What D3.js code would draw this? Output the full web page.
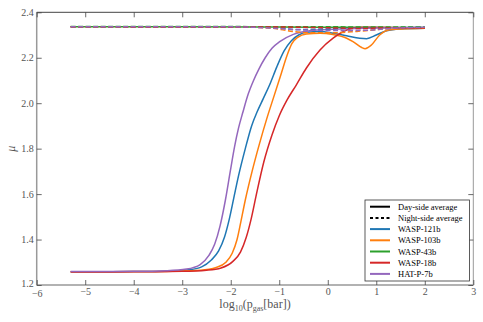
<!DOCTYPE html>
<html>
<head>
<meta charset="utf-8">
<script src="https://cdn.jsdelivr.net/npm/d3@7"></script>
<style>
  body { margin: 0; background: #fff; }
  text { font-family: "Liberation Serif", "DejaVu Serif", serif; }
</style>
</head>
<body>
<svg id="chart" width="483" height="322"></svg>
<script>
"use strict";

// planets, in legend order
const planets = ["WASP-121b", "WASP-103b", "WASP-43b", "WASP-18b", "HAT-P-7b"];
const colors = ["#1f77b4", "#ff7f0e", "#2ca02c", "#d62728", "#9467bd"];

// day-side averages (log10 p, mu)
const daySide = {
  "WASP-121b": [[-5.3,1.258],[-4,1.259],[-3.2,1.262],[-2.9,1.266],[-2.6,1.28],[-2.4,1.31],[-2.25,1.35],[-2.13,1.41],[-2.03,1.49],[-1.94,1.58],[-1.84,1.68],[-1.7,1.8],[-1.57,1.9],[-1.46,1.96],[-1.33,2.02],[-1.2,2.08],[-1.05,2.16],[-0.9,2.23],[-0.75,2.275],[-0.6,2.3],[-0.44,2.312],[-0.16,2.315],[0.11,2.308],[0.39,2.297],[0.66,2.286],[0.8,2.284],[1.0,2.3],[1.21,2.319],[1.49,2.327],[2.0,2.33]],
  "WASP-103b": [[-5.3,1.258],[-4,1.259],[-3.2,1.261],[-2.63,1.265],[-2.3,1.277],[-2.1,1.3],[-1.97,1.34],[-1.87,1.4],[-1.79,1.48],[-1.7,1.574],[-1.56,1.7],[-1.41,1.82],[-1.26,1.93],[-1.11,2.03],[-0.96,2.13],[-0.84,2.21],[-0.74,2.262],[-0.62,2.29],[-0.44,2.305],[-0.16,2.308],[0.11,2.302],[0.39,2.286],[0.52,2.271],[0.7,2.245],[0.77,2.24],[0.9,2.256],[1.07,2.3],[1.25,2.322],[1.49,2.327],[2.0,2.33]],
  "WASP-43b": [[-5.3,2.336],[-3,2.336],[-1,2.335],[0.5,2.334],[2.0,2.333]],
  "WASP-18b": [[-5.3,1.257],[-4,1.258],[-3,1.26],[-2.5,1.265],[-2.2,1.275],[-1.95,1.305],[-1.8,1.345],[-1.68,1.41],[-1.58,1.49],[-1.48,1.59],[-1.32,1.74],[-1.15,1.86],[-1.0,1.945],[-0.85,2.01],[-0.65,2.08],[-0.44,2.155],[-0.16,2.234],[0.11,2.286],[0.39,2.322],[0.59,2.333],[0.8,2.334],[2.0,2.331]],
  "HAT-P-7b": [[-5.3,1.259],[-4,1.26],[-3.32,1.263],[-2.91,1.27],[-2.63,1.29],[-2.45,1.33],[-2.33,1.38],[-2.22,1.46],[-2.11,1.574],[-2.01,1.7],[-1.92,1.81],[-1.84,1.89],[-1.75,1.96],[-1.64,2.04],[-1.53,2.1],[-1.42,2.15],[-1.29,2.2],[-1.15,2.242],[-0.99,2.271],[-0.71,2.303],[-0.37,2.319],[0.11,2.325],[0.8,2.33],[2.0,2.334]]
};

// night-side averages (log10 p, mu)
const nightSide = {
  "WASP-121b": [[-5.3,2.336],[-2,2.336],[-1.2,2.333],[-0.6,2.324],[0,2.327],[0.6,2.331],[2.0,2.333]],
  "WASP-103b": [[-5.3,2.336],[-2,2.336],[-1.2,2.331],[-0.7,2.315],[-0.3,2.31],[0.1,2.31],[0.6,2.316],[1.2,2.327],[2.0,2.331]],
  "WASP-43b": [[-5.3,2.337],[-2,2.337],[0,2.336],[2.0,2.335]],
  "WASP-18b": [[-5.3,2.336],[-1,2.335],[0,2.332],[0.6,2.329],[1.2,2.331],[2.0,2.331]],
  "HAT-P-7b": [[-5.3,2.336],[-2,2.336],[-1.2,2.331],[-0.6,2.323],[0.2,2.32],[0.8,2.321],[1.3,2.329],[2.0,2.334]]
};

const xTicks = [-6, -5, -4, -3, -2, -1, 0, 1, 2, 3];
const yTicks = [1.2, 1.4, 1.6, 1.8, 2.0, 2.2, 2.4];

const svg = d3.select("#chart");
const plotLeft = 36.7, plotRight = 473.3, plotTop = 12.3, plotBottom = 285;

const x = d3.scaleLinear().domain([-6, 3]).range([plotLeft, plotRight]);
const y = d3.scaleLinear().domain([1.2, 2.4]).range([plotBottom, plotTop]);

const line = d3.line()
  .x(d => x(d[0]))
  .y(d => y(d[1]))
  .curve(d3.curveMonotoneX);

// curves: day-side solid, night-side dashed
planets.forEach((p, i) => {
  svg.append("path")
    .attr("d", line(daySide[p]))
    .attr("fill", "none")
    .attr("stroke", colors[i])
    .attr("stroke-width", 1.5);
});
planets.forEach((p, i) => {
  svg.append("path")
    .attr("d", line(nightSide[p]))
    .attr("fill", "none")
    .attr("stroke", colors[i])
    .attr("stroke-width", 1.5)
    .attr("stroke-dasharray", "5,2.5");
});

// frame
const frame = svg.append("g");
frame.append("line").attr("x1", plotLeft).attr("x2", plotRight).attr("y1", plotTop).attr("y2", plotTop)
  .attr("stroke", "#444").attr("stroke-width", 1);
frame.append("line").attr("x1", plotRight).attr("x2", plotRight).attr("y1", plotTop).attr("y2", plotBottom)
  .attr("stroke", "#999").attr("stroke-width", 1);
frame.append("line").attr("x1", plotLeft).attr("x2", plotLeft).attr("y1", plotTop).attr("y2", plotBottom)
  .attr("stroke", "#999").attr("stroke-width", 1.5);
frame.append("line").attr("x1", plotLeft).attr("x2", plotRight).attr("y1", plotBottom).attr("y2", plotBottom)
  .attr("stroke", "#999").attr("stroke-width", 1.5);

// ticks (inside, on all four sides)
const fmtX = d => d < 0 ? "\u2212" + Math.abs(d) : String(d);
const tickLen = 5;

const xAxisB = d3.axisBottom(x).tickValues(xTicks).tickSizeInner(-tickLen).tickSizeOuter(0)
  .tickPadding(3).tickFormat(fmtX);
const gxb = svg.append("g").attr("transform", `translate(0,${plotBottom})`).call(xAxisB);
const xAxisT = d3.axisTop(x).tickValues(xTicks).tickSizeInner(-tickLen).tickSizeOuter(0).tickFormat("");
const gxt = svg.append("g").attr("transform", `translate(0,${plotTop})`).call(xAxisT);

const yAxisL = d3.axisLeft(y).tickValues(yTicks).tickSizeInner(-tickLen).tickSizeOuter(0)
  .tickPadding(3).tickFormat(d3.format(".1f"));
const gyl = svg.append("g").attr("transform", `translate(${plotLeft},0)`).call(yAxisL);
const yAxisR = d3.axisRight(y).tickValues(yTicks).tickSizeInner(-tickLen).tickSizeOuter(0).tickFormat("");
const gyr = svg.append("g").attr("transform", `translate(${plotRight},0)`).call(yAxisR);

[gxb, gxt, gyl, gyr].forEach(g => {
  g.select(".domain").remove();
  g.selectAll(".tick line").attr("stroke", "#444").attr("stroke-width", 0.8);
  g.selectAll(".tick text").attr("fill", "#555").style("font-size", "10px")
    .style("font-family", "'Liberation Serif', 'DejaVu Serif', serif");
});
// the lowest y label sits just above the first x label
gyl.selectAll(".tick text").filter(d => d === 1.2).attr("dy", "0.1em");
gxb.selectAll(".tick text").filter(d => d === -6).attr("dy", "0.85em");

// axis labels
const xl = svg.append("text")
  .attr("x", (plotLeft + plotRight) / 2)
  .attr("y", 308)
  .attr("text-anchor", "middle")
  .attr("fill", "#555")
  .style("font-size", "12px");
xl.append("tspan").text("log");
xl.append("tspan").attr("dy", 3).style("font-size", "8px").text("10");
xl.append("tspan").attr("dy", -3).text("(p");
xl.append("tspan").attr("dy", 3).style("font-size", "8px").text("gas");
xl.append("tspan").attr("dy", -3).text("[bar])");

svg.append("text")
  .attr("transform", `translate(15,${(plotTop + plotBottom) / 2}) rotate(-90)`)
  .attr("text-anchor", "middle")
  .attr("fill", "#555")
  .style("font-size", "12px")
  .style("font-style", "italic")
  .text("\u03bc");

// legend
const legendItems = [
  { label: "Day-side average", color: "#000", dash: null, w: 2 },
  { label: "Night-side average", color: "#000", dash: "3,2.5", w: 2 }
].concat(planets.map((p, i) => ({ label: p, color: colors[i], dash: null, w: 2 })));

const lg = svg.append("g");
lg.append("rect")
  .attr("x", 365).attr("y", 200).attr("width", 104.5).attr("height", 81)
  .attr("fill", "#fff").attr("stroke", "#333").attr("stroke-width", 0.8);
legendItems.forEach((it, i) => {
  const cy = 206.7 + i * 11.2;
  lg.append("line")
    .attr("x1", 370).attr("x2", 390).attr("y1", cy).attr("y2", cy)
    .attr("stroke", it.color).attr("stroke-width", it.w)
    .attr("stroke-dasharray", it.dash);
  lg.append("text")
    .attr("x", 398).attr("y", cy + 3)
    .attr("fill", "#000")
    .style("font-size", "8.5px")
    .text(it.label);
});
</script>
</body>
</html>
